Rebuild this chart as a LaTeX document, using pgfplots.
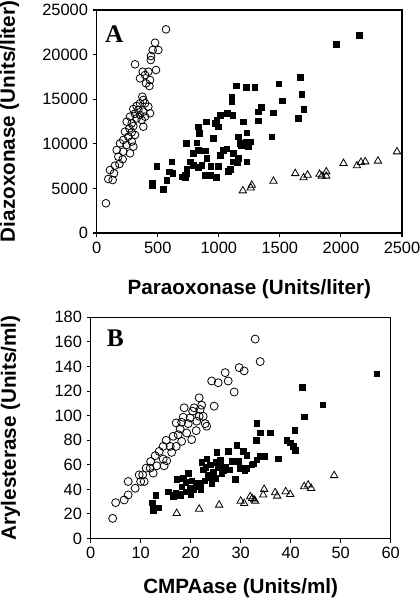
\documentclass[border=0pt]{standalone}
\usepackage{fontspec}
\setmainfont{Liberation Sans}
\newfontfamily\panelfont{Liberation Serif}
\usepackage{pgfplots}
\pgfplotsset{compat=1.18}
\newcommand{\labfont}{\bfseries\fontsize{15.5}{18}\selectfont}
\begin{document}
\begin{tikzpicture}
\useasboundingbox (0,0) rectangle (315pt,450pt);
\pgfplotsset{
  myaxis/.style={
    scale only axis,
    anchor=south west,
    tick pos=left,
    tick align=outside,
    major tick length=3pt,
    axis line style={line width=0.8pt},
    every tick/.style={black, line width=0.8pt},
    /pgf/number format/assume math mode=true,
    /pgf/number format/1000 sep={},
    scaled ticks=false,
    tick label style={font=\fontsize{12.3}{14}\selectfont},
    clip=false,
  },
  circ/.style={only marks, mark=o, mark size=2.9pt, mark options={line width=0.6pt, black}},
  sq/.style={only marks, mark=square*, mark size=2.1pt, mark options={black, fill=black}},
  tri/.style={only marks, mark=triangle, mark size=3.2pt, mark options={line width=0.6pt, black}},
}
% Panel A
\begin{axis}[myaxis,
  at={(72.5pt,275.25pt)}, width=229pt, height=167.25pt,
  xmin=0, xmax=2500, ymin=0, ymax=25000,
  xtick={0,500,...,2500}, ytick={0,5000,...,25000},
  xlabel={Paraoxonase (Units/liter)},
  ylabel={Diazoxonase (Units/liter)},
  every axis x label/.style={at={(axis description cs:0.5,-0.278)}, anchor=base, font=\labfont},
  every axis y label/.style={at={(axis description cs:-0.2675,0.5)}, rotate=90, anchor=base, font=\labfont},
]
\addplot[circ] table {
x y
568 22830
478 21330
505 20510
459 20510
445 19840
443 19390
314 18910
486 18270
377 18080
423 18080
396 17710
355 17340
437 17150
404 16780
432 16480
374 15280
382 14910
355 14540
396 14540
327 14240
423 14160
300 13900
341 13790
382 13600
437 13420
313 13370
355 13230
273 13040
396 13040
327 12850
369 12670
246 12480
287 12300
382 11920
300 11990
268 11730
232 11360
287 11290
314 10990
259 10800
218 10430
287 10250
191 10050
246 9870
300 9680
164 9300
218 9120
273 8930
177 8560
213 8270
186 7730
150 7550
109 7060
142 6690
95 6050
131 5940
76 3330
};
\addplot[sq] table {
x y
456 5640
456 5300
492 7510
546 4930
574 5940
596 6870
615 7990
624 6700
697 6310
724 6240
724 6500
737 6670
738 7140
732 10050
765 7990
792 8930
792 7620
820 10120
833 9300
833 11920
833 7400
842 11170
861 7620
888 9230
888 6500
896 12480
902 8370
929 6500
934 7510
956 10610
970 12300
978 6240
984 12670
997 7510
998 11920
1011 13230
1011 8700
1038 9300
1066 9440
1071 13420
1079 6910
1093 7140
1107 15280
1107 14720
1115 13230
1120 8930
1120 7990
1145 16520
1153 7960
1161 10800
1161 8370
1175 10050
1186 9810
1202 12480
1227 10240
1227 16370
1230 11240
1230 7990
1243 9650
1257 10240
1295 16370
1325 13600
1325 12590
1350 14070
1434 10800
1448 13490
1492 16740
1522 14810
1653 12890
1669 17480
1680 15560
1697 13890
1960 21150
2150 22200
};
\addplot[tri] table {
x y
1197 4740
1262 5070
1270 5370
1448 5810
1626 6670
1694 6200
1727 6500
1825 6590
1844 6390
1880 6870
1880 6390
2021 7810
2131 7550
2164 7930
2199 7990
2303 8070
2459 9110
};
\node[anchor=north west, inner sep=0pt, font=\panelfont\bfseries\fontsize{19}{22}\selectfont] at (axis description cs:0.027,0.93) {A};
\end{axis}
% Panel B
\begin{axis}[myaxis,
  at={(68pt,46.1pt)}, width=225pt, height=165.9pt,
  xmin=0, xmax=60, ymin=0, ymax=180,
  xtick={0,10,...,60}, ytick={0,20,...,180},
  xlabel={CMPAase (Units/ml)},
  ylabel={Arylesterase (Units/ml)},
  every axis x label/.style={at={(axis description cs:0.5,-0.247)}, anchor=base, font=\labfont},
  every axis y label/.style={at={(axis description cs:-0.249,0.5)}, rotate=90, anchor=base, font=\labfont},
]
\addplot[circ, mark size=3pt] table {
x y
4.4 16.4
5.0 29.2
6.7 31.4
7.5 35.5
7.5 46.4
8.9 40.9
9.7 51.8
10.0 46.4
10.4 51.8
10.7 46.4
11.1 57.3
11.9 57.3
12.0 62.7
12.5 53.2
12.9 67.4
13.2 59.2
13.7 70.9
14.5 64.6
14.7 59.2
15.2 63.3
14.5 75.0
15.1 79.9
15.9 75.0
16.2 70.1
16.5 83.2
17.1 94.1
17.1 75.0
17.5 84.5
17.9 89.2
18.2 94.6
18.7 106.4
18.5 98.7
18.2 79.1
19.2 85.9
19.5 93.5
19.9 98.2
20.2 80.5
20.4 103.6
20.7 106.4
21.1 87.8
21.2 95.5
21.7 114.5
21.9 105.0
21.7 99.5
22.2 108.5
22.5 99.5
22.9 93.5
23.2 91.4
24.7 107.7
24.2 128.2
25.5 126.8
26.9 135.0
27.5 128.2
28.7 119.2
29.7 139.1
30.7 136.4
32.9 162.3
33.9 144.0
};
\addplot[sq] table {
x y
12.3 29
12.5 25
13.0 35
13.5 25
12.5 23
15.5 38
16.5 34
16.8 35
17.0 37
17.2 48
18.0 36
18.0 35
18.5 49
18.2 42
19.0 38
19.5 53
19.0 46
20.0 36
20.2 47
19.9 41
20.5 40
21.0 44
21.5 45
21.0 42
22.0 40
22.0 43
22.2 62
22.5 56
22.8 47
23.2 65
23.0 58
23.9 60
23.5 52
24.0 50
24.5 54
24.2 45
25.2 70
24.9 49
25.5 58
25.9 64
25.0 62
26.2 53
26.0 60
26.5 55
27.5 71
27.0 58
27.8 56
28.2 63
29.2 76
29.5 63
28.9 48
30.5 71
30.8 55
31.2 68
29.9 57
31.2 57
32.2 60
32.5 61
33.2 64
33.9 67
34.7 67
33.2 94
33.9 86
35.9 86
33.1 80
37.5 65
39.2 80
39.9 78
40.5 75
40.8 88
40.9 72
42.3 123
42.7 99
46.4 109
57.2 134
};
\addplot[tri] table {
x y
17.2 20.5
21.7 24.0
25.7 27.3
30.0 30.5
30.7 28.6
31.9 34.1
32.3 32.7
32.7 31.4
32.9 30.5
34.7 40.1
34.5 35.5
36.9 37.4
37.3 34.6
39.0 38.2
39.9 36.0
42.7 42.3
43.5 43.6
44.1 40.9
48.7 51.3
};
\node[anchor=north west, inner sep=0pt, font=\panelfont\bfseries\fontsize{19}{22}\selectfont] at (axis description cs:0.053,0.943) {B};
\end{axis}
\end{tikzpicture}
\end{document}
